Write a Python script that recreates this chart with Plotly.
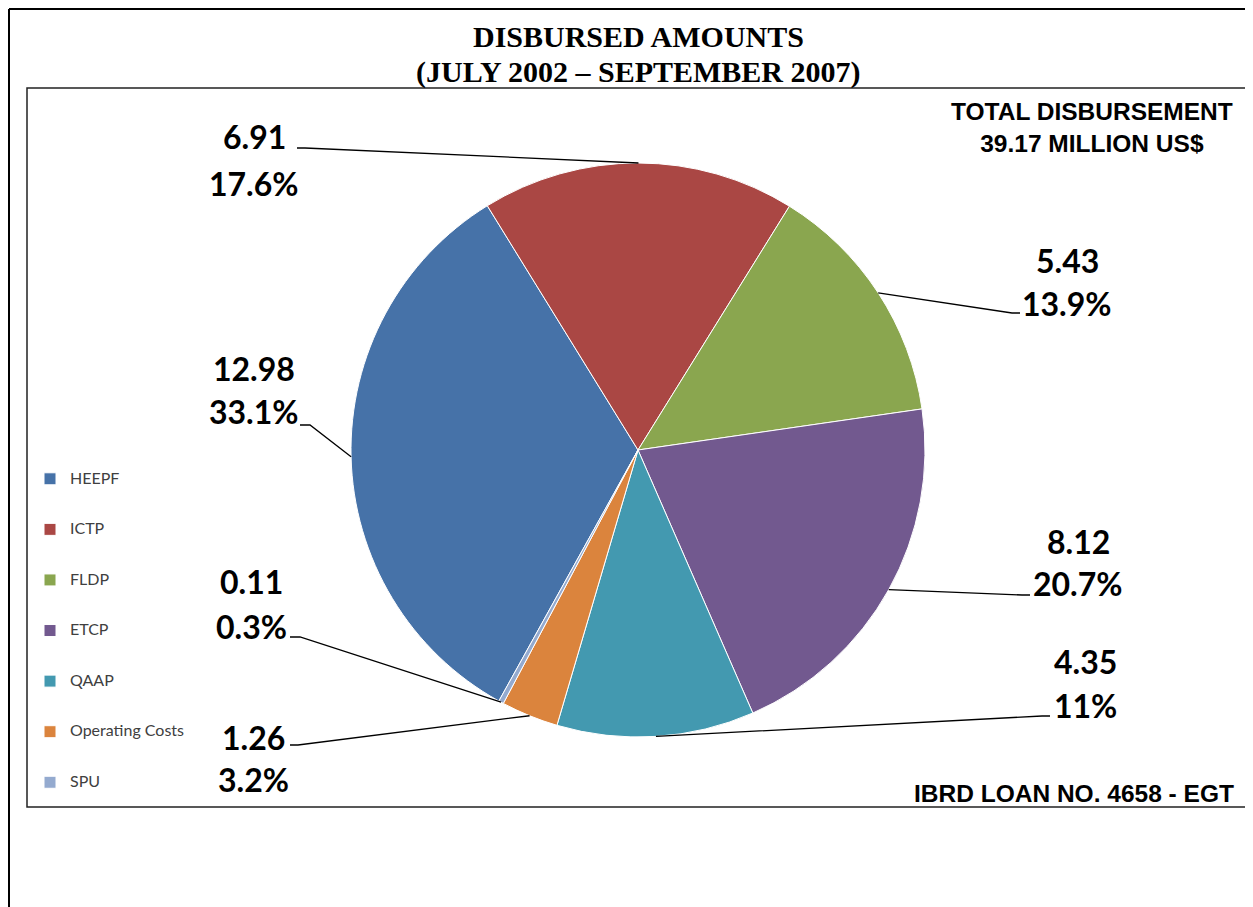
import math
import plotly.graph_objects as go

# data
categories = ["HEEPF", "ICTP", "FLDP", "ETCP", "QAAP", "Operating Costs", "SPU"]
amounts = [12.98, 6.91, 5.43, 8.12, 4.35, 1.26, 0.11]
percents = [33.1, 17.6, 13.9, 20.7, 11, 3.2, 0.3]
colors = ["#4672A8", "#AA4744", "#8AA64F", "#72598F", "#4399B0", "#DB843D", "#94AACF"]

# page body has an 8px margin, so the figure fills the rest of the window
OFF = 8
W, H = 1245, 899

# pie geometry (window pixels)
CX, CY, R = 638, 450, 287
ROTATION = 209

# label placement (window pixels): centre x, value line y, percent line y
label_pos = [
    (254, 369, 412),
    (254, 136, 183),
    (1067, 260, 303),
    (1078, 541, 583),
    (1085, 661, 705),
    (253, 737, 779),
    (251, 581, 626),
]
# leader line start at the label side, and elbow length/direction
leader_start = [
    (300, 425, 10),
    (297, 148, 8),
    (1020, 313, -8),
    (1030, 595, -8),
    (1050, 716, -8),
    (290, 745, 8),
    (290, 637, 10),
]


def px(x, y):
    return (x - OFF) / W, 1 - (y - OFF) / H


dx0, dy1 = px(CX - R, CY - R)
dx1, dy0 = px(CX + R, CY + R)

fig = go.Figure(go.Pie(
    labels=[f" <br><span style='font-size:16px'>{c}</span><br> " for c in categories],
    values=amounts,
    sort=False,
    direction="clockwise",
    rotation=ROTATION,
    marker=dict(colors=colors, line=dict(color="white", width=1)),
    textinfo="none",
    hovertext=categories,
    hoverinfo="text+value+percent",
    domain=dict(x=[dx0, dx1], y=[dy0, dy1]),
))

shapes = []
annotations = []
total = sum(amounts)
cum = 0
for i, v in enumerate(amounts):
    mid = math.radians(ROTATION + (cum + v / 2) / total * 360)
    cum += v
    ex, ey = CX + R * math.sin(mid), CY - R * math.cos(mid)
    sx, sy, dx = leader_start[i]
    x0, y0 = px(sx, sy)
    x1, y1 = px(sx + dx, sy)
    x2, y2 = px(ex, ey)
    shapes.append(dict(type="path", xref="paper", yref="paper",
                       path=f"M{x0},{y0} L{x1},{y1} L{x2},{y2}",
                       line=dict(color="black", width=1.3)))
    lx, ly1, ly2 = label_pos[i]
    for txt, ly in ((f"{v:.2f}", ly1), (f"{percents[i]:g}%", ly2)):
        ax, ay = px(lx, ly)
        annotations.append(dict(text=txt, x=ax, y=ay, xref="paper", yref="paper",
                                xanchor="center", yanchor="middle", showarrow=False,
                                font=dict(family="Lato", size=32, color="black", weight="bold")))

# title
for txt, ty in (("DISBURSED AMOUNTS", 37), ("(JULY 2002 – SEPTEMBER 2007)", 72)):
    tx, tyy = px(639, ty)
    annotations.append(dict(text=f"<b>{txt}</b>", x=tx, y=tyy, xref="paper", yref="paper",
                            xanchor="center", yanchor="middle", showarrow=False,
                            font=dict(family="Liberation Serif", size=30, color="black")))

tx, ty = px(1092, 127)
annotations.append(dict(text="<b>TOTAL DISBURSEMENT<br>39.17 MILLION US$</b>",
                        x=tx, y=ty, xref="paper", yref="paper",
                        xanchor="center", yanchor="middle", align="center", showarrow=False,
                        font=dict(family="Liberation Sans", size=24.5, color="black")))
tx, ty = px(1236, 793)
annotations.append(dict(text="<b>IBRD LOAN NO. 4658 - EGT</b>",
                        x=tx, y=ty, xref="paper", yref="paper",
                        xanchor="right", yanchor="middle", showarrow=False,
                        font=dict(family="Liberation Sans", size=24.5, color="black")))

# page border and chart box
bx0, by0 = px(9, 9)
shapes.append(dict(type="line", xref="paper", yref="paper", x0=bx0, x1=1, y0=by0, y1=by0,
                   line=dict(color="black", width=2)))
shapes.append(dict(type="line", xref="paper", yref="paper", x0=bx0, x1=bx0, y0=0, y1=by0,
                   line=dict(color="black", width=2)))
rx0, ry1 = px(27, 88)
rx1, ry0 = px(1250, 807)
shapes.append(dict(type="rect", xref="paper", yref="paper", x0=rx0, x1=rx1,
                   y0=ry0, y1=ry1, line=dict(color="#222222", width=1.5)))

lgx, lgy = px(30, 631)
fig.update_layout(
    width=W, height=H,
    margin=dict(l=0, r=0, t=0, b=0),
    paper_bgcolor="white",
    showlegend=True,
    legend=dict(x=lgx, xanchor="left", y=lgy, yanchor="middle",
                font=dict(family="Lato", size=12.2, color="#404040"),
                bgcolor="rgba(0,0,0,0)"),
    shapes=shapes,
    annotations=annotations,
)

fig.write_html("out.html")
